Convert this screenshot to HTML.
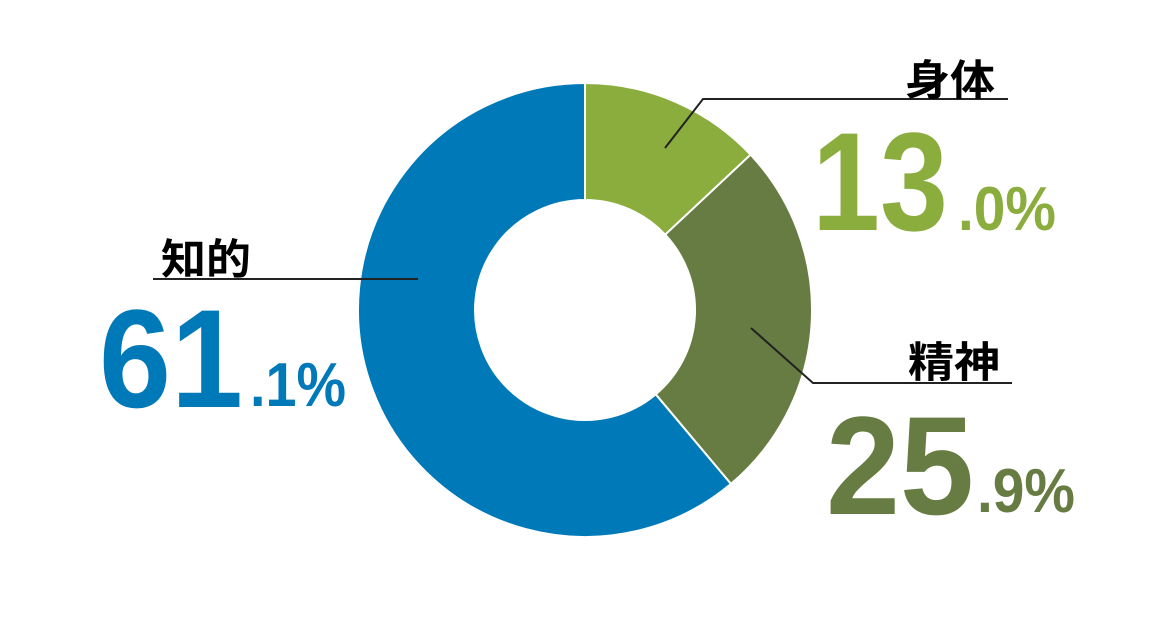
<!DOCTYPE html>
<html><head><meta charset="utf-8"><style>body{margin:0;background:#fff}svg{display:block}</style></head>
<body>
<svg width="1163" height="618" viewBox="0 0 1163 618" xmlns="http://www.w3.org/2000/svg">
<g stroke="#fff" stroke-width="2">
<path d="M585,83 A227,227 0 0 1 750.6,154.7 L665.2,234.7 A110,110 0 0 0 585,200 Z" fill="#8aad3e"/>
<path d="M750.6,154.7 A227,227 0 0 1 730.9,483.9 L655.7,394.3 A110,110 0 0 0 665.2,234.7 Z" fill="#667c42"/>
<path d="M730.9,483.9 A227,227 0 1 1 585,83 L585,200 A110,110 0 1 0 655.7,394.3 Z" fill="#0079b8"/>
</g>
<g stroke="#222" stroke-width="2" fill="none">
<polyline points="665,148 703,99 1008,99"/>
<polyline points="751,328 813,383 1012,383"/>
<line x1="153" y1="279" x2="418" y2="279"/>
</g>
<g font-family="'Liberation Sans','Noto Sans CJK JP',sans-serif" font-weight="bold">
<text x="905" y="95" font-size="42" textLength="90" lengthAdjust="spacingAndGlyphs">身体</text>
<text x="908" y="377" font-size="42" textLength="92" lengthAdjust="spacingAndGlyphs">精神</text>
<text x="161" y="274" font-size="42" textLength="90" lengthAdjust="spacingAndGlyphs">知的</text>
<g fill="#8aad3e"><text x="812" y="230" font-size="140" textLength="136" lengthAdjust="spacingAndGlyphs">13</text>
<text x="958" y="230" font-size="62" textLength="98" lengthAdjust="spacingAndGlyphs">.0%</text></g>
<g fill="#667c42"><text x="826" y="514" font-size="140" textLength="148" lengthAdjust="spacingAndGlyphs">25</text>
<text x="977" y="512" font-size="62" textLength="98" lengthAdjust="spacingAndGlyphs">.9%</text></g>
<g fill="#0079b8"><text x="99" y="407" font-size="140" textLength="144" lengthAdjust="spacingAndGlyphs">61</text>
<text x="250" y="406" font-size="62" textLength="96" lengthAdjust="spacingAndGlyphs">.1%</text></g>
</g>
</svg>
</body></html>
